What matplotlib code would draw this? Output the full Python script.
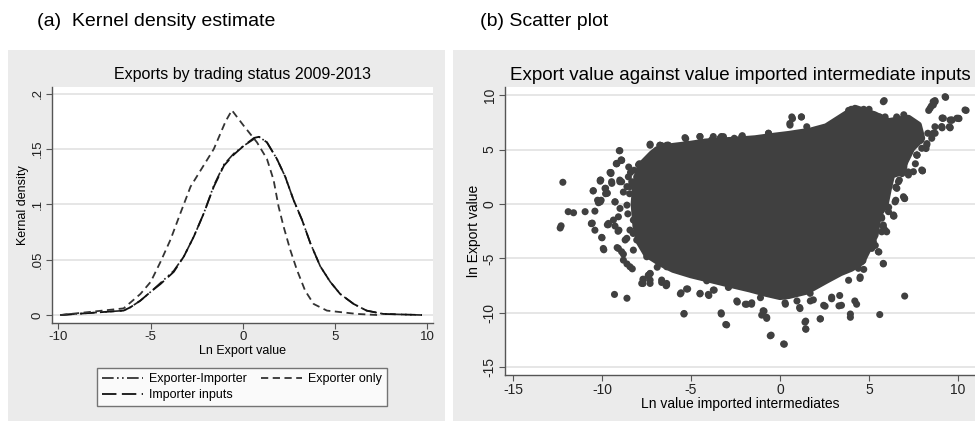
import numpy as np
import matplotlib
matplotlib.use("Agg")
import matplotlib.pyplot as plt
from matplotlib.patches import Rectangle

plt.rcParams['font.family'] = ['Liberation Sans', 'DejaVu Sans']
plt.rcParams['axes.unicode_minus'] = False

# ---- panel (a): kernel density curves ----
exp_only_x = [-9.9, -6.47, -5.56, -5.0, -4.47, -3.93, -3.39, -2.84, -2.21, -1.58,
              -0.94, -0.6, 0.04, 0.76, 1.3, 1.66, 1.93, 2.2, 2.56, 2.92, 3.37,
              3.83, 4.55, 6.17, 7.3]
exp_only_y = [0.0, 0.006, 0.019, 0.030, 0.048, 0.068, 0.092, 0.116, 0.133, 0.150,
              0.175, 0.185, 0.171, 0.156, 0.141, 0.122, 0.098, 0.080, 0.059, 0.041,
              0.022, 0.010, 0.004, 0.001, 0.0]

imp_x = [-9.9, -6.47, -6.1, -5.56, -5.0, -4.47, -3.75, -3.2, -2.66, -2.12, -1.58,
         -1.03, -0.49, 0.05, 0.6, 0.87, 1.3, 1.84, 2.29, 2.74, 3.2, 3.65, 4.19,
         4.73, 5.27, 6.0, 6.7, 7.6, 9.7]
imp_y = [0.0, 0.004, 0.007, 0.013, 0.021, 0.028, 0.039, 0.053, 0.071, 0.092, 0.116,
         0.135, 0.145, 0.153, 0.160, 0.161, 0.156, 0.141, 0.125, 0.104, 0.086, 0.065,
         0.044, 0.030, 0.019, 0.010, 0.004, 0.001, 0.0]

# exporter-importer sits right on top of importer inputs
expimp_x = [-9.9, -6.47, -6.1, -5.56, -5.0, -4.47, -3.75, -3.2, -2.66, -2.12, -1.58,
            -1.03, -0.49, 0.05, 0.6, 0.87, 1.3, 1.84, 2.29, 2.74, 3.2, 3.65, 4.19,
            4.73, 5.27, 6.0, 6.7, 7.6, 9.7]
expimp_y = [0.0, 0.004, 0.007, 0.013, 0.021, 0.029, 0.040, 0.053, 0.071, 0.092, 0.117,
            0.136, 0.146, 0.153, 0.159, 0.161, 0.156, 0.141, 0.125, 0.104, 0.086, 0.065,
            0.044, 0.030, 0.019, 0.010, 0.004, 0.001, 0.0]

kd_yticks = [0, 0.05, 0.1, 0.15, 0.2]
kd_ylabels = ['0', '.05', '.1', '.15', '.2']
kd_xticks = [-10, -5, 0, 5, 10]

# ---- panel (b): scatter. outline of the solid core + individual points ----
core_x = [-7.9, -8.1, -8.2, -8.1, -7.8, -7.2, -6.9, -6.0, -5.0, -4.2, -3.3, -2.2,
          -1.4, -0.5, 0.5, 1.7, 2.6, 3.75, 4.21, 5.34, 6.09, 7.21, 7.77, 7.96, 7.4,
          7.02, 6.84, 6.27, 6.09, 5.9, 5.52, 5.34, 4.96, 4.59, 4.0, 3.4, 2.6, 1.5,
          0.5, 0.0, -0.8, -1.7, -3.0, -4.0, -5.0, -6.0, -6.74, -7.5]
core_y = [-3.5, -2.0, 0.0, 2.0, 3.6, 4.6, 5.0, 5.3, 5.5, 5.7, 5.8, 5.9,
          6.0, 6.2, 6.4, 6.7, 7.1, 8.3, 8.8, 8.18, 7.57, 7.88, 7.26, 6.04, 5.12,
          3.89, 2.97, 2.67, 1.44, -0.1, -1.0, -2.85, -4.07, -5.3, -5.9, -6.3, -7.0, -8.0,
          -8.4, -8.5, -8.2, -7.8, -7.3, -6.9, -6.5, -6.0, -5.4, -4.6]

pts_x = [-12.2, -12.35, -12.3, -11.9, -11.6, -10.95, -10.4, -10.5, -10.55, -10.4,
         -10.1, -10.25, -10.1, -10.0, -9.9, -9.7, -9.8, -9.5, -9.3, -9.15, -9.0,
         -9.2, -8.9, -8.6, -9.0, -9.05, -8.8, -8.6, -8.3, -8.7, -8.45, -8.55, -8.2,
         -8.1, -7.9, -8.25, -7.7, -7.7, -7.4, -7.3, -7.5, -7.3, -6.75, -6.65, -6.3,
         -6.65, -6.4, -6.65, -6.4, -6.9, -5.6, -5.4, -5.25, -5.3, -4.5, -4.9, -4.5,
         -4.0, -3.75, -3.3, -3.0, -3.75, -3.3, -4.1, -2.5, -2.15, -2.9, -2.4, -1.95,
         -1.6, -1.9, -1.3, -1.1, -0.95, -0.75, -0.55, 0.2, 0.3, -0.65, -1.1, 0.7,
         0.55, 1.2, 0.95, 1.1, 1.4, 1.45, 1.7, 2.25, 2.45, 2.9, 3.35, 3.45, 3.95,
         3.95, 4.2, 4.3, 3.85, 4.5, 4.65, 4.7, 5.05, 5.35, 5.55, 5.8, 5.6, 5.8, 5.9,
         5.7, 6.1, 6.4, 6.5, 7.0, 7.0, 6.7, 6.5, 6.85, 6.95, 7.2, 8.0, 7.6, 7.7,
         8.2, 8.25, 7.9, 7.6, 8.3, 8.6, 8.7, 9.1, 9.55, 9.1, 9.65, 10.05, 10.45,
         9.3, 8.35, 8.5, 8.6, 8.7, 5.85, 5.8, 3.85, 4.0, 4.2, 3.9, 4.1, 4.7, 5.0,
         5.25, 5.6, 5.9, 6.55, 6.95, 7.2, 7.5,
         -8.93, -9.17, -9.5, -10.1, -9.8, -9.7, -10.05, -10.6, -9.45, -8.9, -9.27,
         -8.5, -8.4, -7.95, -7.5, -8.8, -8.6, -9.65, -9.1,
         0.66, 1.2, 0.56, -5.34, -4.5, -4.87, -6.65, -6.27, -3.84, -3.37, -3.18,
         -2.57, -2.12, -0.65, -0.94, 1.5, -6.8,
         9.93, 9.55, 9.14, 9.08, 9.51, 7.68, 8.0, 6.99, 6.37,
         -5.39, -3.31, -3.05, -0.5, 0.24, 1.44, 1.44, 2.27, -0.9, -0.75, -1.03,
         -2.43, -1.87, -1.59, -5.56, -5.19, -4.49, -4.03, -3.7, 0.28, 1.12, 2.53,
         2.9, 3.31, -7.68, -7.3, -6.65, -6.37, -7.3, -4.12, -2.9, -3.28, 1.87, 1.69,
         # left fringe
         -7.3, -6.74, -6.37, -6.22, -9.03, -8.9, -9.17, -9.55, -10.07, -10.49,
         -9.83, -9.74, -10.2, -10.58, -10.02, -9.93, -9.64, -9.27, -9.08, -8.9,
         -8.8, -8.43, -7.77, -7.4, -7.3, -6.37, -9.0, -9.46, -9.27, -8.99, -8.6,
         -9.08, -9.36, -8.43, -8.33, -8.05, -8.52, -8.24, -8.43, -8.61, -8.05,
         -8.24, -7.68, -7.49, -6.74, -6.37,
         # right fringe
         9.27, 8.71, 8.61, 8.43, 10.39, 10.02, 9.64, 9.17, 9.08, 9.55, 8.71, 8.52,
         8.24, 7.96, 7.68, 7.96, 7.49, 7.21, 6.65, 6.56, 6.93, 6.46, 6.37, 6.09,
         5.71, 5.8, 5.99, 5.71, 5.24, 5.15, 5.52, 5.8, 4.59, 4.4, 4.49]
pts_y = [2.0, -2.2, -2.0, -0.7, -0.8, -0.7, -0.65, 1.2, -1.75, -2.4,
         2.1, 0.35, 0.2, -3.1, -4.2, -1.9, 0.95, 2.8, -8.3, -4.0, 4.9,
         3.7, 4.0, -8.65, 2.2, -2.4, -4.6, -5.5, -5.95, -3.3, 0.95, -0.9, 3.1,
         2.0, 3.7, -2.7, -6.9, -7.3, -6.6, 5.4, 3.7, -6.4, 5.4, 5.2, 5.4,
         4.2, 4.3, -7.2, -7.5, -5.8, -8.25, -10.1, -7.8, 6.0, 6.2, 5.3, -8.25,
         -8.4, -7.9, -10.1, -11.1, 6.2, 6.2, 5.55, 5.9, 6.2, -7.6, -9.0, -9.2,
         -9.2, -7.6, -7.9, -8.6, -9.8, -10.4, -12.1, -12.85, -9.2, 6.5, 5.9, 7.85,
         7.4, 8.0, -8.9, -9.5, -10.85, -11.5, -8.9, -10.55, -9.3, -8.55, -8.4, -9.3, -10.1,
         -10.4, -8.9, -9.2, -7.0, -6.7, -5.2, -6.0, -4.0, -3.8, -4.4, -5.5, -10.15, -2.1, -2.4,
         -1.2, -0.3, -1.1, 0.35, 0.5, -8.45, 2.2, 1.55, 2.8, 3.4, 2.95, 3.05, 3.7, 4.5,
         5.1, 5.55, 5.85, 6.5, 6.5, 6.5, 7.1, 7.0, 7.0, 7.9, 7.7, 7.85, 8.6,
         9.8, 8.6, 9.0, 9.4, 9.5, 9.5, 9.4, 8.6, 8.7, 8.6, 8.2, 8.2, 8.7, 8.7,
         8.2, 8.0, 8.0, 8.0, 8.2, 7.7, 7.4,
         4.05, 3.7, 2.9, 2.2, 1.45, 1.0, 0.35, -1.8, 1.9, 2.05, 0.2,
         3.4, 2.9, 3.6, 3.6, 1.1, 1.6, -1.9, -2.5,
         8.0, 8.0, 7.25, 6.1, 6.2, 5.27, 5.36, 5.4, 5.9, 6.04, 6.19,
         6.04, 6.28, 6.5, 5.97, 7.1, 4.4,
         7.88, 7.72, 7.88, 7.1, 7.1, 4.5, 3.06, 0.52, -1.1,
         -10.05, -9.99, -11.06, -12.04, -12.87, -10.75, -11.46, -10.54, -9.83, -10.5, -10.2,
         -8.9, -9.2, -9.07, -8.15, -7.8, -8.2, -8.3, -7.9, -9.07, -9.6, -9.38,
         -8.7, -9.35, -6.98, -6.98, -6.98, -7.44, -6.37, -7.05, -7.66, -6.9, -8.8, -8.2,
         # left fringe
         5.5, 5.4, 5.4, 5.27, 4.9, 4.04, 3.74, 2.9, 2.2, 1.23,
         1.44, 0.98, 0.12, -1.78, -3.06, -4.08, -1.78, -2.02, -4.08, -4.38,
         -5.15, -5.76, -7.29, -6.53, -7.29, -7.29, 2.05, 2.05, 0.2, -0.4, -0.1,
         -1.17, -1.47, 1.6, 2.05, 2.5, 2.5, -1.47, -2.39, -3.15, -3.3,
         -4.23, -3.92, -4.84, -5.15, -5.76,
         # right fringe
         9.86, 9.4, 9.1, 8.8, 8.64, 7.88, 7.72, 7.88, 7.1, 7.05, 6.5, 6.04,
         5.42, 5.12, 4.5, 3.13, 2.97, 2.67, 2.05, 1.44, 0.67, 0.2, -1.0, -0.7,
         -1.3, -1.93, -2.55, -2.55, -3.46, -4.07, -4.38, -5.45, -5.15, -5.9, -6.83]

sc_ticks_x = [-15, -10, -5, 0, 5, 10]
sc_ticks_y = [-15, -10, -5, 0, 5, 10]

W, H = 975, 421
fig = plt.figure(figsize=(W / 100, H / 100), dpi=100)
fig.patch.set_facecolor('white')

panel_bg = '#ebebeb'
fig.patches.append(Rectangle((8 / W, 0), 437 / W, 371 / H, transform=fig.transFigure,
                             facecolor=panel_bg, edgecolor='none', zorder=-5))
fig.patches.append(Rectangle((453 / W, 0), 522 / W, 371 / H, transform=fig.transFigure,
                             facecolor=panel_bg, edgecolor='none', zorder=-5))

fig.text(37 / W, 1 - 22 / H, '(a)  Kernel density estimate', fontsize=14,
         va='center', ha='left')
fig.text(480 / W, 1 - 22 / H, '(b) Scatter plot', fontsize=14,
         va='center', ha='left')

spine_c = '#555555'
grid_c = '#e4e4e4'


def style_axes(ax, fs):
    for s in ['top', 'right']:
        ax.spines[s].set_visible(False)
    for s in ['left', 'bottom']:
        ax.spines[s].set_color(spine_c)
        ax.spines[s].set_linewidth(1.0)
    ax.tick_params(colors='#222222', labelsize=fs, length=4, width=0.8,
                   color=spine_c, pad=2)
    ax.grid(axis='y', color=grid_c, linewidth=1.3)
    ax.set_axisbelow(True)
    for lab in ax.get_yticklabels():
        lab.set_rotation(90)
        lab.set_va('center')


# ---- left panel ----
ax1 = fig.add_axes([52 / W, 1 - 323 / H, 381 / W, 236 / H])
ax1.set_facecolor('white')
l_ei, = ax1.plot(expimp_x, expimp_y, color='#222222', lw=1.2,
                 linestyle=(0, (7, 2, 1, 2, 1, 2)), label='Exporter-Importer')
l_ii, = ax1.plot(imp_x, imp_y, color='#111111', lw=1.3,
                 linestyle=(0, (8, 3)), label='Importer inputs')
l_eo, = ax1.plot(exp_only_x, exp_only_y, color='#333333', lw=1.3,
                 linestyle=(0, (4, 2.5)), label='Exporter only')
ax1.set_xlim(-10.35, 10.3)
ax1.set_ylim(-0.0072, 0.206)
ax1.set_xticks(kd_xticks)
ax1.set_yticks(kd_yticks)
ax1.set_yticklabels(kd_ylabels)
ax1.set_xlabel('Ln Export value', fontsize=9, labelpad=1)
ax1.set_ylabel('Kernal density', fontsize=9, labelpad=2)
ax1.set_title('Exports by trading status 2009-2013', fontsize=11.5, pad=6)
style_axes(ax1, 9.5)

leg = fig.legend(handles=[l_ei, l_ii, l_eo], ncol=2,
                 bbox_to_anchor=(242 / W, 1 - 387 / H), loc='center',
                 fontsize=9, frameon=True, fancybox=False, handlelength=3.3,
                 handletextpad=0.5, borderpad=0.4, labelspacing=0.3,
                 columnspacing=1.1, borderaxespad=0)
leg.get_frame().set_edgecolor('#555555')
leg.get_frame().set_linewidth(1.0)

# ---- right panel ----
ax2 = fig.add_axes([505 / W, 1 - 375 / H, 470 / W, 288 / H])
ax2.set_facecolor('white')
dot_c = '#404040'
ax2.fill(core_x, core_y, color=dot_c, lw=5, joinstyle='round', zorder=2)
ax2.scatter(pts_x, pts_y, s=26, color=dot_c, edgecolors='none', zorder=3)
ax2.set_xlim(-15.45, 10.95)
ax2.set_ylim(-15.7, 10.75)
ax2.set_xticks(sc_ticks_x)
ax2.set_yticks(sc_ticks_y)
ax2.set_xlabel('Ln value imported intermediates', fontsize=10, labelpad=0)
ax2.set_ylabel('ln Export value', fontsize=10, labelpad=1)
ax2.set_title('Export value against value imported intermediate inputs',
              fontsize=13.5, pad=5, loc='left', x=0.01)
style_axes(ax2, 10)

fig.savefig('out.png', dpi=100)
